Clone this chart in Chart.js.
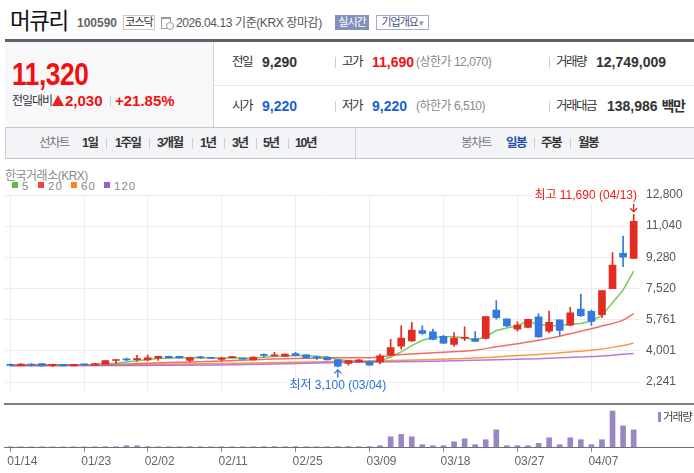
<!DOCTYPE html>
<html lang="ko">
<head>
<meta charset="utf-8">
<script src="https://cdn.jsdelivr.net/npm/chart.js@4.4.1/dist/chart.umd.min.js"></script>
<style>
  body { margin:0; width:694px; height:473px; position:relative; overflow:hidden; background:#fff;
    font-family:"Liberation Sans","Noto Sans CJK KR",sans-serif; color:#333; }
  .a { position:absolute; white-space:nowrap; line-height:16px; height:16px; }
  .k { letter-spacing:-1.5px; }
  .b { font-weight:bold; }
  .sep { position:absolute; width:1px; height:11px; background:#cfcfcf; }
  .box { position:absolute; font-size:11px; text-align:center; box-sizing:border-box; letter-spacing:-1px; }
  .sq { position:absolute; width:6px; height:6px; top:182px; }
  canvas { position:absolute; left:0; }
</style>
</head>
<body>
<!-- header -->
<div class="a" style="left:10px;top:9px;font-size:22.5px;line-height:26px;height:26px;color:#111;letter-spacing:-1.5px">머큐리</div>
<div class="a b" style="left:77px;top:15px;font-size:12px;color:#666">100590</div>
<div class="box" style="left:123px;top:15px;width:32px;height:15px;line-height:13px;border:1px solid #c8c8c8;color:#333">코스닥</div>
<div style="position:absolute;left:161px;top:17px;width:8px;height:9px;border:1px solid #9a9a9a;border-top-width:2px"></div>
<div style="position:absolute;left:166px;top:22px;width:6px;height:6px;border:1px solid #9a9a9a;border-radius:50%;background:#fff"></div>
<div class="a" style="left:176px;top:15px;font-size:12px;color:#555;letter-spacing:-0.4px">2026.04.13 기준(KRX 장마감)</div>
<div class="box" style="left:335px;top:15px;width:34px;height:15px;line-height:15px;background:#8191ba;color:#fff">실시간</div>
<div class="box" style="left:376px;top:15px;width:53px;height:15px;line-height:13px;border:1px solid #a3aecb;color:#3f5187">기업개요<span style="color:#999;font-size:9px"> ▾</span></div>

<div style="position:absolute;left:5px;top:39px;width:689px;height:3px;background:#5e626a"></div>
<div style="position:absolute;left:5px;top:42px;width:208px;height:85px;background:#f8f8fa;border-right:1px solid #d3d3d3"></div>
<div style="position:absolute;left:214px;top:85px;width:480px;height:1px;background:#e6e6e6"></div>

<div class="a b" style="left:12px;top:58px;font-size:32px;line-height:32px;height:32px;color:#f40f0f;transform:scaleX(0.82);transform-origin:0 0;letter-spacing:-0.5px">11,320</div>
<div class="a k" style="left:12px;top:93px;font-size:12px;color:#333;letter-spacing:-1px">전일대비</div>
<div style="position:absolute;left:52px;top:95px;width:0;height:0;border-left:6px solid transparent;border-right:6px solid transparent;border-bottom:11px solid #e8231c"></div>
<div class="a b" style="left:65px;top:93px;font-size:15px;color:#f40f0f">2,030</div>
<div class="sep" style="left:110px;top:96px"></div>
<div class="a b" style="left:115px;top:93px;font-size:15px;color:#f40f0f">+21.85%</div>

<div class="a k" style="left:232px;top:54px;font-size:12.5px;color:#333">전일</div>
<div class="a b" style="left:262px;top:54px;font-size:14px;color:#333">9,290</div>
<div class="sep" style="left:335px;top:57px"></div>
<div class="a k" style="left:342px;top:54px;font-size:12.5px;color:#333">고가</div>
<div class="a b" style="left:372px;top:54px;font-size:14px;color:#f40f0f">11,690</div>
<div class="a" style="left:416px;top:54px;font-size:12px;color:#888;letter-spacing:-0.5px">(상한가 12,070)</div>
<div class="sep" style="left:549px;top:57px"></div>
<div class="a k" style="left:556px;top:54px;font-size:12.5px;color:#333">거래량</div>
<div class="a b" style="left:596px;top:54px;font-size:14px;color:#333">12,749,009</div>

<div class="a k" style="left:232px;top:98px;font-size:12.5px;color:#333">시가</div>
<div class="a b" style="left:262px;top:98px;font-size:14px;color:#1561d6">9,220</div>
<div class="sep" style="left:335px;top:101px"></div>
<div class="a k" style="left:342px;top:98px;font-size:12.5px;color:#333">저가</div>
<div class="a b" style="left:372px;top:98px;font-size:14px;color:#1561d6">9,220</div>
<div class="a" style="left:416px;top:98px;font-size:12px;color:#888;letter-spacing:-0.5px">(하한가 6,510)</div>
<div class="sep" style="left:549px;top:101px"></div>
<div class="a k" style="left:556px;top:98px;font-size:12.5px;color:#333">거래대금</div>
<div class="a b" style="left:607px;top:98px;font-size:14px;color:#333">138,986 <span class="k">백만</span></div>

<!-- tab bar -->
<div style="position:absolute;left:5px;top:127px;width:689px;height:30px;background:#f3f4f8;border-top:1px solid #c6c6c6;border-bottom:1px solid #c6c6c6;border-left:1px solid #d0d0d0;box-sizing:content-box"></div>
<div style="position:absolute;left:355px;top:128px;width:1px;height:30px;background:#d0d0d0"></div>
<div class="a k" style="left:39px;top:135px;font-size:12.5px;color:#777">선차트</div>
<div class="a k b" style="left:82px;top:135px;font-size:12.5px">1일</div>
<div class="sep" style="left:106px;top:138px"></div>
<div class="a k b" style="left:115px;top:135px;font-size:12.5px">1주일</div>
<div class="sep" style="left:149px;top:138px"></div>
<div class="a k b" style="left:157px;top:135px;font-size:12.5px">3개월</div>
<div class="sep" style="left:192px;top:138px"></div>
<div class="a k b" style="left:200px;top:135px;font-size:12.5px">1년</div>
<div class="sep" style="left:224px;top:138px"></div>
<div class="a k b" style="left:232px;top:135px;font-size:12.5px">3년</div>
<div class="sep" style="left:256px;top:138px"></div>
<div class="a k b" style="left:263px;top:135px;font-size:12.5px">5년</div>
<div class="sep" style="left:288px;top:138px"></div>
<div class="a k b" style="left:295px;top:135px;font-size:12.5px">10년</div>
<div class="a k" style="left:461px;top:135px;font-size:12.5px;color:#777">봉차트</div>
<div class="a k b" style="left:506px;top:135px;font-size:12.5px;color:#1f4fa8">일봉</div>
<div class="sep" style="left:534px;top:138px"></div>
<div class="a k b" style="left:541px;top:135px;font-size:12.5px">주봉</div>
<div class="sep" style="left:570px;top:138px"></div>
<div class="a k b" style="left:578px;top:135px;font-size:12.5px">월봉</div>

<!-- chart legend -->
<div class="a" style="left:5px;top:168px;font-size:12px;color:#8a8a8a;letter-spacing:-0.5px">한국거래소(KRX)</div>
<div class="sq" style="left:12px;background:#5cbd45"></div>
<div class="a" style="left:22px;top:178px;font-size:11.5px;color:#8a8a8a;letter-spacing:1px">5</div>
<div class="sq" style="left:38px;background:#ee4444"></div>
<div class="a" style="left:48px;top:178px;font-size:11.5px;color:#8a8a8a;letter-spacing:1px">20</div>
<div class="sq" style="left:71px;background:#f5871f"></div>
<div class="a" style="left:81px;top:178px;font-size:11.5px;color:#8a8a8a;letter-spacing:1px">60</div>
<div class="sq" style="left:104px;background:#a25bd0"></div>
<div class="a" style="left:114px;top:178px;font-size:11.5px;color:#8a8a8a;letter-spacing:1px">120</div>

<canvas id="price" width="694" height="224" style="top:180px"></canvas>
<canvas id="volume" width="694" height="68" style="top:405px"></canvas>

<div style="position:absolute;left:4px;top:403px;width:690px;height:2px;background:#7d7d7d"></div>
<div style="position:absolute;left:4px;top:447px;width:690px;height:1px;background:#6f6f6f"></div>
<div style="position:absolute;left:658px;top:412px;width:3px;height:10px;background:#9a86c5"></div>
<div class="a k" style="left:663px;top:409px;font-size:11.5px;color:#444;letter-spacing:-1px">거래량</div>

<script>
const FONT = '"Liberation Sans", "Noto Sans CJK KR", sans-serif';
const UP = '#e22b23';
const DOWN = '#3479de';

// trading days shown
const dates = [
  '01/14','01/15','01/16','01/19','01/20','01/21','01/22','01/23','01/26','01/27',
  '01/28','01/29','01/30','02/02','02/03','02/04','02/05','02/06','02/09','02/10',
  '02/11','02/12','02/13','02/19','02/20','02/23','02/24','02/25','02/26','02/27',
  '03/03','03/04','03/05','03/06','03/09','03/10','03/11','03/12','03/13','03/16',
  '03/17','03/18','03/19','03/20','03/23','03/24','03/25','03/26','03/27','03/30',
  '03/31','04/01','04/02','04/03','04/06','04/07','04/08','04/09','04/10','04/13'
];
const tickDates = ['01/14','01/23','02/02','02/11','02/25','03/09','03/18','03/27','04/07'];
const yTicks = [2241, 4001, 5761, 7520, 9280, 11040, 12800];

const opens = [
  3250,3170,3215,3280,3170,3240,3160,3225,3190,3245,
  3460,3540,3510,3490,3595,3700,3700,3470,3630,3590,
  3520,3620,3560,3495,3770,3720,3690,3850,3775,3630,
  3655,3495,3300,3390,3405,3375,3770,4265,4565,5150,
  5080,4830,4370,4705,4690,4705,6310,5810,5230,5320,
  5920,5110,5760,5460,6360,6240,6040,7520,9510,9220
];
const highs = [
  3270,3280,3290,3280,3260,3240,3250,3260,3290,3460,
  3490,3600,3755,3770,3710,3710,3700,3640,3700,3620,
  3640,3690,3580,3660,3830,3920,3830,3920,3790,3690,
  3670,3510,3470,3510,3440,3815,4650,5410,5620,5410,
  5230,4880,5040,5355,5090,5940,6835,5810,5640,5815,
  6095,6255,5760,6465,7205,6305,7410,9545,10480,11690
];
const lows = [
  3170,3150,3140,3160,3110,3150,3150,3190,3180,3240,
  3300,3440,3420,3440,3470,3590,3590,3400,3560,3560,
  3440,3610,3520,3490,3655,3720,3680,3720,3600,3510,
  3490,3100,3195,3350,3180,3270,3720,4105,4530,4935,
  4615,4405,4265,4580,4530,4670,5795,5355,5110,5320,
  4760,5020,4880,5410,5935,5445,5885,7520,8750,9220
];
const closes = [
  3180,3260,3205,3160,3250,3160,3240,3215,3280,3455,
  3490,3490,3560,3610,3700,3600,3600,3630,3610,3580,
  3590,3670,3540,3655,3750,3780,3815,3725,3600,3610,
  3495,3140,3460,3495,3195,3725,4195,4725,5180,4985,
  4650,4440,4725,4760,4530,5940,5880,5410,5460,5780,
  4795,5620,5150,6150,5990,5670,7410,8840,9290,11320
];
const volumes = [
  150000,130000,110000,140000,120000,100000,120000,110000,160000,250000,
  220000,950000,900000,250000,200000,200000,180000,250000,200000,150000,
  180000,170000,140000,200000,250000,280000,220000,260000,200000,180000,
  210000,300000,280000,220000,250000,960000,7600000,9360000,7600000,1700000,
  960000,960000,3900000,6100000,1700000,5400000,12750000,960000,960000,960000,
  2700000,6850000,1700000,6850000,5400000,1700000,5400000,26750000,15700000,12749009
];

// moving averages
const ma5 = [
  3210,3212,3215,3210,3205,3210,3205,3210,3230,3270,
  3310,3380,3450,3520,3570,3600,3610,3620,3625,3610,
  3600,3610,3600,3605,3640,3680,3710,3745,3735,3705,
  3650,3515,3450,3400,3360,3440,3660,3950,4300,4600,
  4755,4805,4800,4740,4620,4800,5150,5295,5420,5680,
  5480,5440,5420,5510,5545,5690,6000,6720,7440,8500
];
const ma20Idx = [0, 5, 10, 15, 20, 25, 28, 31, 34, 35, 36, 40, 44, 46, 48, 50, 52, 54, 56, 58, 59];
const ma20 = [3200, 3205, 3240, 3340, 3430, 3540, 3590, 3610, 3615, 3650, 3740, 3900, 4040, 4230, 4410, 4600, 4830, 5110, 5410, 5740, 6110];
const ma60Idx = [0, 10, 20, 31, 36, 40, 45, 47, 50, 53, 55, 57, 58, 59];
const ma60 = [3190, 3220, 3290, 3400, 3460, 3520, 3630, 3700, 3800, 3940, 4040, 4200, 4300, 4440];
const ma120Idx = [0, 10, 20, 31, 40, 50, 55, 57, 58, 59];
const ma120 = [3150, 3170, 3210, 3340, 3420, 3560, 3680, 3760, 3810, 3860];

const idx = dates.map((d, i) => i);
const tickIdx = tickDates.map(d => dates.indexOf(d));
const candleColors = idx.map(i => closes[i] >= opens[i] ? UP : DOWN);
const fmt = v => v.toLocaleString('en-US');

function xScale(extra) {
  return Object.assign({
    type: 'linear', min: -0.5, max: 59.6, offset: false,
    afterBuildTicks: s => { s.ticks = tickIdx.map(v => ({ value: v })); }
  }, extra);
}

function maLine(label, xs, ys, color) {
  return {
    type: 'line', label: label,
    data: xs.map((x, k) => ({ x: x, y: ys[k] })),
    borderColor: color, borderWidth: 1.5, pointRadius: 0,
    cubicInterpolationMode: 'monotone', order: 5
  };
}

function drawMark(ctx, px, py, text, color, dir, area) {
  ctx.save();
  ctx.font = '12px ' + FONT;
  const w = ctx.measureText(text).width;
  let left = px - w / 2;
  if (left + w > area.right - 3) left = area.right - 3 - w;
  const ty = py + dir * 19;
  ctx.fillStyle = '#fff';
  ctx.fillRect(left - 2, ty - 7, w + 4, 14);
  ctx.fillStyle = color;
  ctx.textBaseline = 'middle';
  ctx.fillText(text, left, ty);
  const tip = py + dir * 3, tail = py + dir * 11;
  ctx.strokeStyle = color;
  ctx.lineWidth = 1.3;
  ctx.beginPath();
  ctx.moveTo(px, tail); ctx.lineTo(px, tip);
  ctx.moveTo(px - 3.5, tip + dir * 3.5); ctx.lineTo(px, tip); ctx.lineTo(px + 3.5, tip + dir * 3.5);
  ctx.stroke();
  ctx.restore();
}

const markers = {
  id: 'markers',
  afterDatasetsDraw(chart) {
    const { ctx, chartArea } = chart;
    const x = chart.scales.x, y = chart.scales.y;
    const hi = highs.indexOf(Math.max(...highs));
    const lo = lows.indexOf(Math.min(...lows));
    drawMark(ctx, x.getPixelForValue(hi), y.getPixelForValue(highs[hi]),
      '최고 ' + fmt(highs[hi]) + ' (' + dates[hi] + ')', '#e8221b', -1, chartArea);
    drawMark(ctx, x.getPixelForValue(lo), y.getPixelForValue(lows[lo]),
      '최저 ' + fmt(lows[lo]) + ' (' + dates[lo] + ')', '#2d6fd6', 1, chartArea);
  }
};

new Chart(document.getElementById('price'), {
  type: 'bar',
  data: {
    datasets: [
      {
        label: 'wick',
        data: idx.map(i => ({ x: i, y: [lows[i], highs[i]] })),
        backgroundColor: candleColors,
        barThickness: 1, grouped: false, order: 1
      },
      {
        label: 'body',
        data: idx.map(i => ({ x: i, y: [opens[i], closes[i]] })),
        backgroundColor: candleColors,
        barThickness: 7, minBarLength: 1, grouped: false, order: 0
      },
      maLine('120', ma120Idx, ma120, 'rgba(160, 90, 210, 0.8)'),
      maLine('60', ma60Idx, ma60, 'rgba(245, 138, 35, 0.85)'),
      maLine('20', ma20Idx, ma20, 'rgba(238, 70, 70, 0.8)'),
      Object.assign(maLine('5', idx, ma5, 'rgba(100, 192, 72, 0.85)'), { cubicInterpolationMode: 'default', tension: 0 })
    ]
  },
  options: {
    responsive: false,
    animation: false,
    events: [],
    layout: { padding: { left: 5, right: 0, top: 15, bottom: 0 } },
    plugins: { legend: { display: false }, tooltip: { enabled: false } },
    scales: {
      x: xScale({
        ticks: { display: false },
        grid: { color: '#ececec', drawTicks: false, offset: false },
        border: { display: false },
        afterFit: s => { s.height = 0; }
      }),
      y: {
        position: 'right', min: 1749, max: 12800, beginAtZero: false,
        afterBuildTicks: s => { s.ticks = yTicks.map(v => ({ value: v })); },
        ticks: { padding: 6, color: '#555', font: { size: 12, family: FONT }, callback: v => fmt(v) },
        grid: { color: '#ececec', drawTicks: false },
        border: { display: false },
        afterFit: s => { s.width = 54; }
      }
    }
  },
  plugins: [markers]
});

new Chart(document.getElementById('volume'), {
  type: 'bar',
  data: {
    datasets: [{
      label: '거래량',
      data: idx.map(i => ({ x: i, y: volumes[i] })),
      backgroundColor: '#9a86c5',
      barThickness: 5
    }]
  },
  options: {
    responsive: false,
    animation: false,
    events: [],
    layout: { padding: { left: 5, right: 54, top: 0, bottom: 0 } },
    plugins: { legend: { display: false }, tooltip: { enabled: false } },
    scales: {
      x: xScale({
        ticks: {
          autoSkip: false, maxRotation: 0, align: 'start', labelOffset: -3, padding: 2,
          color: '#666', font: { size: 12, family: FONT }, callback: v => dates[v]
        },
        grid: { offset: false, drawOnChartArea: false, drawTicks: true, tickLength: 5, color: '#888' },
        border: { display: false },
        afterFit: s => { s.height = 26; }
      }),
      y: { display: false, min: 0, max: 31200000 }
    }
  }
});
</script>
</body>
</html>
